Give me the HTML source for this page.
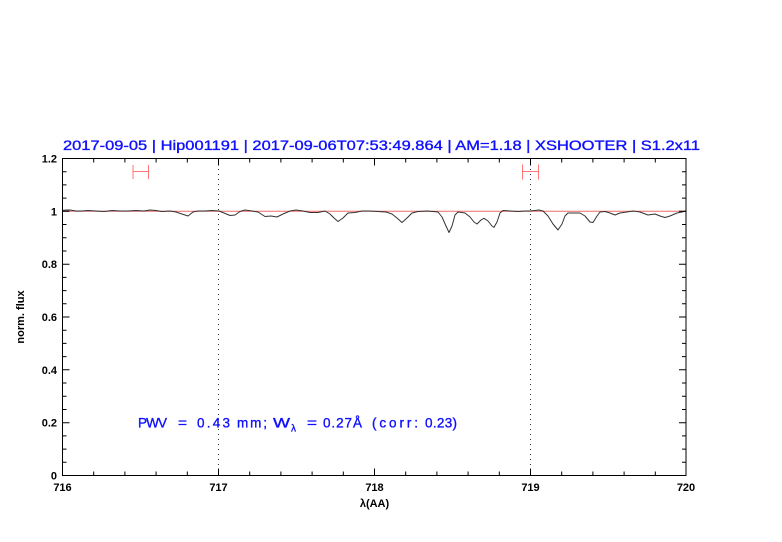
<!DOCTYPE html>
<html><head><meta charset="utf-8"><style>
html,body{margin:0;padding:0;background:#fff;}
svg{display:block;}
text{font-family:"Liberation Sans",sans-serif;}
</style></head><body>
<svg width="782" height="542" viewBox="0 0 782 542" xmlns="http://www.w3.org/2000/svg">
<rect width="782" height="542" fill="#fff"/>
<!-- title -->
<text x="63" y="150" font-size="13.5" fill="#1010ff" stroke="#1010ff" stroke-width="0.35" textLength="637" lengthAdjust="spacingAndGlyphs">2017-09-05 | Hip001191 | 2017-09-06T07:53:49.864 | AM=1.18 | XSHOOTER | S1.2x11</text>
<!-- dotted verticals -->
<line x1="218.5" y1="159" x2="218.5" y2="475" stroke="#333" stroke-width="1" stroke-dasharray="1,4"/>
<line x1="530.5" y1="159" x2="530.5" y2="475" stroke="#333" stroke-width="1" stroke-dasharray="1,4"/>
<!-- continuum line -->
<line x1="62" y1="211.3" x2="686" y2="211.3" stroke="#f06a6a" stroke-width="1"/>
<!-- spectrum -->
<polyline fill="none" stroke="#333" stroke-width="1" stroke-linejoin="round" points="62,210.5 66,210 70,210 76,211 82,211 88,210.5 96,211 104,211.5 112,210.5 120,211 128,211 136,210.5 144,211 150,210 156,210.5 162,211.5 170,211 176,212 182,214 188,216 193,212 198,211 205,211 212,210.5 219,211 224,213 230,215.5 235,215 240,211.5 245,210 252,211 258,212 265,216.5 271,216 277,217 283,214 290,211 296,210 303,211 310,212.5 318,212.5 325,211 330,214 334,218 338,221.5 343,218 348,213 355,212.5 362,211 370,211 378,211.5 386,212 392,214 397,218 402,222.5 407,218 412,213 418,211.5 427,211 433,211.5 438,212 442,217 446,226 449,232.5 452,226 455,215 458,212 465,213 470,217 474,222 477,224 481,220 484,218.3 488,221 492,226 494,227.3 497,222 500,213 503,210.5 510,211 518,211.5 525,211 530,211 535,210.5 539,210 543,211 548,216 553,224 558,230 562,224 565,216 568,213 575,213 580,213 585,216 590,222 593,222.5 597,216 600,212 605,211.5 610,213 615,215 620,213 627,212 633,211 640,212 648,215 655,214 660,216 665,217.5 670,216 677,213 682,212 686,211"/>
<!-- red markers -->
<g stroke="#f77" stroke-width="1" fill="none">
<line x1="133" y1="171.5" x2="148.5" y2="171.5"/>
<line x1="133" y1="165" x2="133" y2="179"/>
<line x1="148.5" y1="165" x2="148.5" y2="179"/>
<line x1="522.5" y1="171.5" x2="538.5" y2="171.5"/>
<line x1="522.5" y1="164.5" x2="522.5" y2="179.5"/>
<line x1="538.5" y1="164.5" x2="538.5" y2="179.5"/>
</g>
<!-- frame -->
<rect x="62.5" y="158.5" width="623.5" height="317" fill="none" stroke="#000" stroke-width="1"/>
<!-- ticks -->
<g stroke="#000" stroke-width="1">
<path d="M218.5,475.5v-7M374.5,475.5v-7M530.5,475.5v-7M218.5,158.5v7M374.5,158.5v7M530.5,158.5v7"/>
<path d="M93.7,475.5v-4M124.9,475.5v-4M156.1,475.5v-4M187.3,475.5v-4M249.7,475.5v-4M280.9,475.5v-4M312.1,475.5v-4M343.3,475.5v-4M405.7,475.5v-4M436.9,475.5v-4M468.1,475.5v-4M499.3,475.5v-4M561.7,475.5v-4M592.9,475.5v-4M624.1,475.5v-4M655.3,475.5v-4
M93.7,158.5v4M124.9,158.5v4M156.1,158.5v4M187.3,158.5v4M249.7,158.5v4M280.9,158.5v4M312.1,158.5v4M343.3,158.5v4M405.7,158.5v4M436.9,158.5v4M468.1,158.5v4M499.3,158.5v4M561.7,158.5v4M592.9,158.5v4M624.1,158.5v4M655.3,158.5v4"/>
<path d="M62.5,422.7h7M62.5,369.8h7M62.5,317h7M62.5,264.2h7M62.5,211.3h7M686,422.7h-7M686,369.8h-7M686,317h-7M686,264.2h-7M686,211.3h-7"/>
<path d="M62.5,462.3h4M62.5,449.1h4M62.5,435.9h4M62.5,409.5h4M62.5,396.3h4M62.5,383h4M62.5,356.6h4M62.5,343.4h4M62.5,330.2h4M62.5,303.8h4M62.5,290.6h4M62.5,277.4h4M62.5,251h4M62.5,237.7h4M62.5,224.5h4M62.5,198.1h4M62.5,184.9h4M62.5,171.7h4
M686,462.3h-4M686,449.1h-4M686,435.9h-4M686,409.5h-4M686,396.3h-4M686,383h-4M686,356.6h-4M686,343.4h-4M686,330.2h-4M686,303.8h-4M686,290.6h-4M686,277.4h-4M686,251h-4M686,237.7h-4M686,224.5h-4M686,198.1h-4M686,184.9h-4M686,171.7h-4"/>
</g>
<!-- y labels -->
<g font-size="11" font-weight="bold" fill="#000" text-anchor="end">
<text x="57" y="479.5">0</text>
<text x="57" y="426.5">0.2</text>
<text x="57" y="373.8">0.4</text>
<text x="57" y="321">0.6</text>
<text x="57" y="268.2">0.8</text>
<text x="57" y="215.3">1</text>
<text x="57" y="162.5">1.2</text>
</g>
<!-- x labels -->
<g font-size="11" font-weight="bold" fill="#000" text-anchor="middle">
<text x="62.5" y="491">716</text>
<text x="218.5" y="491">717</text>
<text x="374.5" y="491">718</text>
<text x="530.5" y="491">719</text>
<text x="686" y="491">720</text>
<text x="374.5" y="507">λ(AA)</text>
</g>
<text transform="translate(24,317) rotate(-90)" font-size="11" font-weight="bold" fill="#000" text-anchor="middle">norm. flux</text>
<!-- PWV -->
<g font-size="13.5" fill="#1010ff" stroke="#1010ff" stroke-width="0.35">
<text x="138" y="427.5" textLength="29" lengthAdjust="spacing">PWV</text>
<text x="178" y="427.5" textLength="9" lengthAdjust="spacingAndGlyphs">=</text>
<text x="197" y="427.5" textLength="33" lengthAdjust="spacing">0.43</text>
<text x="237" y="427.5" textLength="30" lengthAdjust="spacing">mm;</text>
<text x="273" y="427.5" textLength="17" lengthAdjust="spacingAndGlyphs">W</text>
<text x="291" y="431.5" font-size="10">λ</text>
<text x="307" y="427.5" textLength="10" lengthAdjust="spacingAndGlyphs">=</text>
<text x="323" y="427.5" textLength="39" lengthAdjust="spacing">0.27Å</text>
<text x="372" y="427.5" textLength="46" lengthAdjust="spacing">(corr:</text>
<text x="425" y="427.5" textLength="32" lengthAdjust="spacing">0.23)</text>
</g>
</svg>
</body></html>
